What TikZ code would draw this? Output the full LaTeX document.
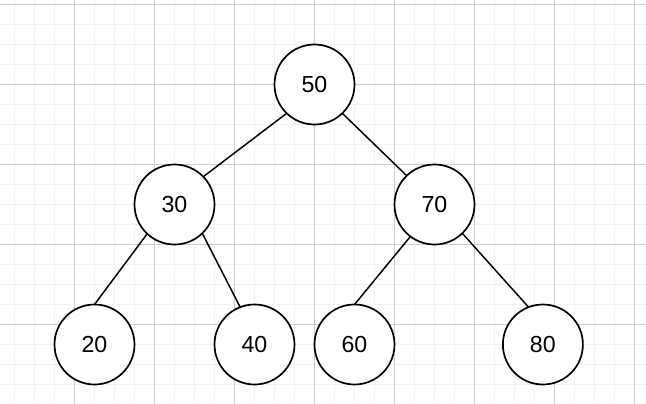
\documentclass[tikz,border=0pt]{standalone}
\usepackage{fontspec}
\setmainfont{Liberation Sans}
\usepackage{tikz}
\usetikzlibrary{positioning}
\colorlet{minorcol}{black!5}
\colorlet{majorcol}{black!20}
\tikzset{
    keynode/.style={circle, draw, fill=white, line width=1.2pt,
        minimum size=2cm, inner sep=0pt, outer sep=0pt,
        font=\fontsize{16.5}{19}\selectfont},
    treeedge/.style={line width=1.05pt}
}
\begin{document}
\begin{tikzpicture}

        % Canvas
        \useasboundingbox (-7.8625,-7.9875) rectangle (8.2875,2.1125);
        \fill[white] (-7.8625,-7.9875) rectangle (8.2875,2.1125);

        % Grid
        \draw[minorcol, line width=0.75pt, step=0.5] (-7.8625,-7.9875) grid (8.2875,2.1125);
        \draw[majorcol, line width=0.6pt, step=2] (-7.8625,-7.9875) grid (8.2875,2.1125);

        % Root
        \node[keynode] (n50) at (0,0) {50};

        % Second level
        \node[keynode] (n30) at (-3.5,-3) {30};
        \node[keynode] (n70) at (3,-3) {70};

        % Leaves
        \node[keynode] (n20) at (-5.5,-6.5) {20};
        \node[keynode] (n40) at (-1.5,-6.5) {40};
        \node[keynode] (n60) at (1,-6.5) {60};
        \node[keynode] (n80) at (5.71,-6.5) {80};

        % Edges
        \draw[treeedge] (n50.-134) -- (n30.44);
        \draw[treeedge] (n50.-46) -- (n70.134);
        \draw[treeedge] (n30.-133) -- (n20.north);
        \draw[treeedge] (n30.-46) -- (n40.111);
        \draw[treeedge] (n70.-127) -- (n60.north);
        \draw[treeedge] (n70.-46) -- (n80.111);

\end{tikzpicture}
\end{document}
